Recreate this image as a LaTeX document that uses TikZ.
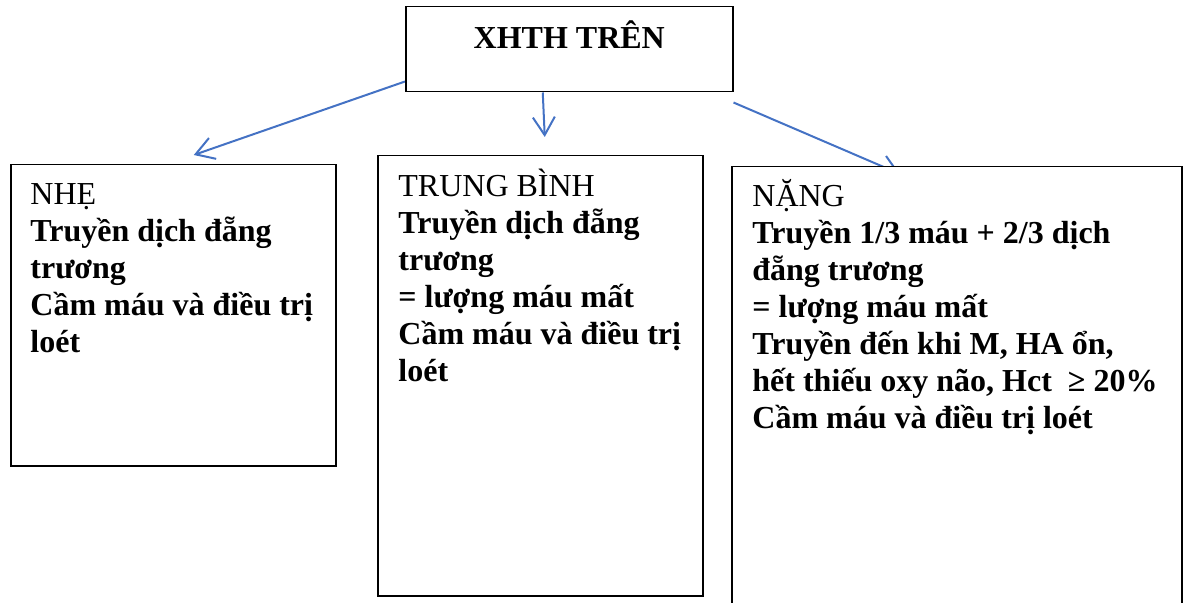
\documentclass[tikz,border=0pt]{standalone}
\usepackage{fontspec}
\setmainfont{Liberation Serif}
\usetikzlibrary{arrows.meta,positioning,backgrounds}

\definecolor{linkblue}{RGB}{68,114,196}

\begin{document}
\begin{tikzpicture}[
    x=0.5pt, y=-0.5pt,
    box/.style={draw, line width=0.75pt, fill=white, anchor=north west, inner sep=0pt},
    txt/.style={align=left, inner sep=0pt, font=\fontsize{16}{18.5}\selectfont},
    arr/.style={draw=linkblue, line width=1pt, -{Straight Barb[length=9pt,width=11pt]}}
  ]
    \useasboundingbox (0,0) rectangle (1186,603);

    % boxes
    \node[box, minimum width=163.5pt, minimum height=42.5pt] (xhth) at (405,6) {};
    \node[box, minimum width=162.5pt, minimum height=150.5pt] (nhe) at (10,164) {};
    \node[box, minimum width=162.5pt, minimum height=220pt] (tb) at (377,155) {};
    \node[box, minimum width=225pt, minimum height=230pt] (nang) at (731,166) {};

    % texts
    \node[txt, font=\fontsize{16}{18.5}\selectfont\bfseries, below=7pt of xhth.north] (xhthtxt) {\strut XHTH TRÊN};
    \node[txt, below right=7pt and 10pt of nhe.north west] (nhetxt) {\strut NHẸ\\
      \textbf{Truyền dịch đẵng}\\
      \textbf{trương}\\
      \textbf{Cầm máu và điều trị}\\
      \textbf{loét}};
    \node[txt, below right=7pt and 10.5pt of tb.north west] (tbtxt) {\strut TRUNG BÌNH\\
      \textbf{Truyền dịch đẵng}\\
      \textbf{trương}\\
      \textbf{= lượng máu mất}\\
      \textbf{Cầm máu và điều trị}\\
      \textbf{loét}};
    \node[txt, below right=6.5pt and 10.5pt of nang.north west] (nangtxt) {\strut NẶNG\\
      \textbf{Truyền 1/3 máu + 2/3 dịch}\\
      \textbf{đẵng trương}\\
      \textbf{= lượng máu mất}\\
      \textbf{Truyền đến khi M, HA ổn,}\\
      \textbf{hết thiếu oxy não, Hct \ ≥ 20\%}\\
      \textbf{Cầm máu và điều trị loét}};

    % arrows
    \begin{scope}[on background layer]
      \draw[arr] ([yshift=5.5pt]xhth.south west) -- ([xshift=10.25pt,yshift=4.5pt]nhe.north);
      \draw[arr] ([xshift=-13.25pt]xhth.south) -- ([xshift=2.25pt,yshift=9pt]tb.north);
      \draw[arr] ([yshift=-5pt]xhth.south east) -- ([xshift=84.5pt,yshift=-4pt]nang.north west);
    \end{scope}
  \end{tikzpicture}
\end{document}
